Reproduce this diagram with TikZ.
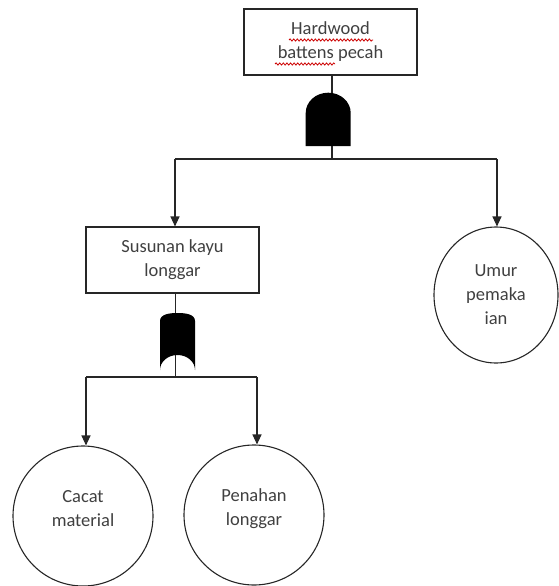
\documentclass[tikz,border=0pt]{standalone}
\usepackage{fontspec}
\setmainfont{Carlito}
\usetikzlibrary{arrows.meta,shapes.geometric,decorations.pathmorphing,calc}
\definecolor{txt}{HTML}{404040}
\definecolor{ink}{HTML}{262626}
\begin{document}
\begin{tikzpicture}[x=1pt,y=-1pt,
  every node/.style={font=\fontsize{18.5}{24}\selectfont, text=txt, align=center},
  event/.style={draw=ink, line width=1.1pt, minimum width=173pt, minimum height=66pt, inner sep=0pt},
  basic/.style={draw=ink, line width=1.1pt, circle, minimum size=140pt, inner sep=0pt},
  basicoval/.style={draw=ink, line width=1.1pt, ellipse, minimum width=124pt, minimum height=136pt, inner sep=0pt},
  wire/.style={draw=ink, line width=1.1pt},
  feed/.style={wire, -{Triangle[width=9pt,length=10pt]}},
  gate/.style={fill=black},
  spell/.style={draw=red!80!black, line width=0.8pt, decorate,
    decoration={snake, amplitude=1.1pt, segment length=3.6pt}}
]
\useasboundingbox (0,0) rectangle (558,586);

% events
\node[event] (top) at (330.5,42) {Hardwood\\battens pecah};
\node[event] (mid) at (172.5,260) {Susunan kayu\\longgar};
\node[basicoval] (c3) at (496,295) {Umur\\pemaka\\ian};
\node[basic] (c1) at (83,516) {};
\node (t1) at (83,509) {Cacat\\material};
\node[basic] (c2) at (254,515) {};
\node (t2) at (254,509) {Penahan\\longgar};

% spelling marks under the top label
\draw[spell] (289,40) -- (373,40);
\draw[spell] (275,64) -- (335,64);

% junctions
\coordinate (j1) at (332,159);
\coordinate (bl) at (175,159);
\coordinate (br) at (497,159);
\coordinate (j2) at (175.5,377);
\coordinate (ll) at (86,377);
\coordinate (lr) at (257,377);

% connectors
\draw[wire] (top.south -| j1) -- (j1);
\draw[wire] (bl) -- (br);
\draw[feed] (bl) -- (bl |- mid.north);
\draw[feed] (br) -- (br |- c3.north);
\draw[wire] (mid.south -| j2) -- (j2);
\draw[wire] (ll) -- (lr);
\draw[feed] (ll) -- (ll |- c1.north);
\draw[feed] (lr) -- (lr |- c2.north);

% AND gate
\fill[gate] (305.7,146) -- (305.7,113)
  .. controls (305.7,101.7) and (315.8,92.7) .. (328.2,92.7)
  .. controls (340.6,92.7) and (350.7,101.7) .. (350.7,113)
  -- (350.7,146) -- cycle;

% OR gate
\fill[gate] (160,370) -- (160,321)
  .. controls (160,314) and (170,313) .. (177.5,313)
  .. controls (185,313) and (195,314) .. (195,321)
  -- (195,370)
  .. controls (195,361.7) and (187.2,355) .. (177.5,355)
  .. controls (167.8,355) and (160,361.7) .. (160,370) -- cycle;
\end{tikzpicture}
\end{document}
